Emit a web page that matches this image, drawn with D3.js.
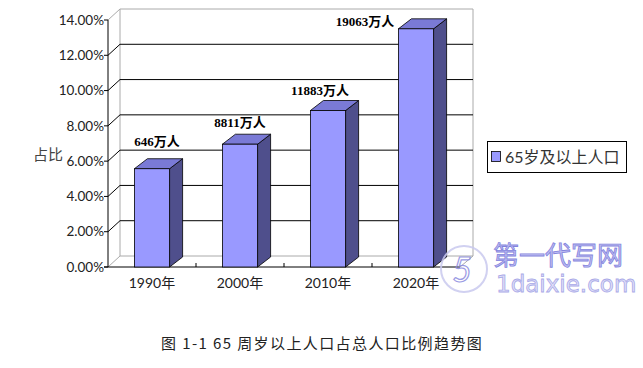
<!DOCTYPE html>
<html>
<head>
<meta charset="utf-8">
<script src="https://cdn.jsdelivr.net/npm/d3@7"></script>
<style>
  body { margin: 0; background: #fff; }
  svg { display: block; }
</style>
</head>
<body>
<div id="chart"></div>
<script>
// data
const years = ['1990年', '2000年', '2010年', '2020年'];
const shares = [0.0557, 0.0696, 0.0887, 0.1350];
const peopleLabels = ['646万人', '8811万人', '11883万人', '19063万人'];
const yTicks = [0, 0.02, 0.04, 0.06, 0.08, 0.10, 0.12, 0.14];
const seriesName = '65岁及以上人口';
const yTitle = '占比';
const caption = '图 1-1 65 周岁以上人口占总人口比例趋势图';

// label nudges (layout only), relative to bar centre / top
const labelNudge = [[5, -27], [0, -22], [-8, -20], [-51, -7]];

const W = 643, H = 368;
const wallDx = 12, wallDy = -11;   // depth of the walls
const barDx = 13, barDy = -10;     // depth of the bars

const svg = d3.select('#chart').append('svg')
  .attr('width', W).attr('height', H);

const x = d3.scaleBand().domain(years).range([108, 460]).padding(0);
const y = d3.scaleLinear().domain([0, 0.14]).range([267, 20]);
const barW = x.bandwidth() * 0.4;

const sans = 'Lato, "Noto Sans CJK SC", sans-serif';

// back wall + floor frame
const g = svg.append('g');
const x0 = x.range()[0], x1 = x.range()[1];
const bx0 = x0 + wallDx, bx1 = x1 + wallDx + 1;

g.append('line') // back wall top
  .attr('x1', bx0).attr('x2', bx1)
  .attr('y1', y(0.14) + wallDy).attr('y2', y(0.14) + wallDy)
  .attr('stroke', '#aaa');
g.append('line') // back wall right
  .attr('x1', bx1).attr('x2', bx1)
  .attr('y1', y(0.14) + wallDy).attr('y2', y(0) + wallDy)
  .attr('stroke', '#aaa');
g.append('line') // back wall left
  .attr('x1', bx0).attr('x2', bx0)
  .attr('y1', y(0.14) + wallDy).attr('y2', y(0) + wallDy)
  .attr('stroke', '#aaa');
g.append('line') // floor right edge
  .attr('x1', x1).attr('x2', bx1)
  .attr('y1', y(0)).attr('y2', y(0) + wallDy)
  .attr('stroke', '#aaa');

// gridlines on back wall and on left wall
yTicks.forEach(v => {
  const edge = v === 0 || v === 0.14;
  if (v !== 0.14) {
    g.append('line')
      .attr('x1', bx0).attr('x2', bx1)
      .attr('y1', y(v) + wallDy).attr('y2', y(v) + wallDy)
      .attr('stroke', edge ? '#aaa' : '#000');
  }
  g.append('line')
    .attr('x1', x0).attr('x2', bx0)
    .attr('y1', y(v)).attr('y2', y(v) + wallDy)
    .attr('stroke', edge ? '#aaa' : '#000');
});

// front axis
g.append('line')
  .attr('x1', x0).attr('x2', x0)
  .attr('y1', y(0.14)).attr('y2', y(0))
  .attr('stroke', '#000');
g.append('line')
  .attr('x1', x0 - 4).attr('x2', x1)
  .attr('y1', y(0)).attr('y2', y(0))
  .attr('stroke', '#000');

g.selectAll('.ytick').data(yTicks).enter().append('line')
  .attr('x1', x0 - 4).attr('x2', x0)
  .attr('y1', d => y(d)).attr('y2', d => y(d))
  .attr('stroke', '#000');

g.selectAll('.ylab').data(yTicks).enter().append('text')
  .attr('x', x0 - 4)
  .attr('y', d => y(d))
  .attr('dy', '0.35em')
  .attr('text-anchor', 'end')
  .style('font-family', sans)
  .style('font-size', '13.5px')
  .style('fill', '#222')
  .text(d3.format('.2%'));

// category ticks between bars
g.selectAll('.xtick').data(years.slice(1)).enter().append('line')
  .attr('x1', d => x(d)).attr('x2', d => x(d))
  .attr('y1', y(0) - 4).attr('y2', y(0))
  .attr('stroke', '#000');

g.selectAll('.xlab').data(years).enter().append('text')
  .attr('x', d => x(d) + x.bandwidth() / 2)
  .attr('y', 283)
  .attr('dy', '0.35em')
  .attr('text-anchor', 'middle')
  .style('font-family', sans)
  .style('font-size', '14px')
  .style('fill', '#222')
  .text(d => d);

// 3d bars
const bars = svg.append('g').selectAll('g').data(years).enter().append('g');
bars.each(function(d, i) {
  const b = d3.select(this);
  const l = x(d) + x.bandwidth() / 2 - barW / 2;
  const r = l + barW;
  const t = y(shares[i]);
  const bot = y(0);
  b.append('path') // side
    .attr('d', `M${r},${bot}L${r + barDx},${bot + barDy}L${r + barDx},${t + barDy}L${r},${t}Z`)
    .attr('fill', '#4f4f8c').attr('stroke', '#000').attr('stroke-width', 0.8);
  b.append('path') // top
    .attr('d', `M${l},${t}L${l + barDx},${t + barDy}L${r + barDx},${t + barDy}L${r},${t}Z`)
    .attr('fill', '#7a7ad6').attr('stroke', '#000').attr('stroke-width', 0.8);
  b.append('rect') // front
    .attr('x', l).attr('y', t)
    .attr('width', barW).attr('height', bot - t)
    .attr('fill', '#9999ff').attr('stroke', '#000').attr('stroke-width', 0.8);
});

// data labels
svg.selectAll('.dlab').data(years).enter().append('text')
  .attr('x', (d, i) => x(d) + x.bandwidth() / 2 + labelNudge[i][0])
  .attr('y', (d, i) => y(shares[i]) + labelNudge[i][1])
  .attr('dy', '0.35em')
  .attr('text-anchor', 'middle')
  .style('font-family', '"Liberation Serif", "Noto Sans CJK SC", serif')
  .style('font-weight', 'bold')
  .style('font-size', '13px')
  .style('fill', '#000')
  .text((d, i) => peopleLabels[i]);

// y title
svg.append('text')
  .attr('x', 33).attr('y', 155)
  .attr('dy', '0.35em')
  .style('font-family', '"Noto Sans CJK SC", sans-serif')
  .style('font-size', '15px')
  .style('fill', '#444')
  .text(yTitle);

// legend
const lg = svg.append('g');
lg.append('rect')
  .attr('x', 487.5).attr('y', 141.5).attr('width', 139).attr('height', 31)
  .attr('fill', '#fff').attr('stroke', '#000');
lg.append('rect')
  .attr('x', 491.5).attr('y', 151.5).attr('width', 9).attr('height', 10)
  .attr('fill', '#9999ff').attr('stroke', '#000').attr('stroke-width', 0.8);
lg.append('text')
  .attr('x', 505).attr('y', 157)
  .attr('dy', '0.35em')
  .style('font-family', sans)
  .style('font-size', '16px')
  .style('fill', '#333')
  .text(seriesName);

// watermark
const wm = svg.append('g').attr('opacity', 0.85);
wm.append('circle')
  .attr('cx', 464).attr('cy', 269).attr('r', 23)
  .attr('fill', 'none').attr('stroke', '#c9c9ef').attr('stroke-width', 2);
wm.append('text')
  .attr('x', 462).attr('y', 270).attr('dy', '0.35em')
  .attr('text-anchor', 'middle')
  .style('font-family', 'Lato, sans-serif')
  .style('font-style', 'italic')
  .style('font-size', '34px')
  .style('fill', 'none').style('stroke', '#8a8ae0').style('stroke-width', 1.2)
  .text('5');
wm.append('text')
  .attr('x', 493).attr('y', 256).attr('dy', '0.35em')
  .style('font-family', '"Noto Sans CJK SC", sans-serif')
  .style('font-size', '26px')
  .style('fill', '#b4b4f0').style('stroke', '#6e6ed8').style('stroke-width', 0.8)
  .text('第一代写网');
wm.append('text')
  .attr('x', 496).attr('y', 284).attr('dy', '0.35em')
  .style('font-family', '"DejaVu Sans", sans-serif')
  .style('font-size', '23px')
  .style('fill', '#dcdcf8').style('stroke', '#9a9ae4').style('stroke-width', 0.8)
  .text('1daixie.com');

// caption
svg.append('text')
  .attr('x', 161).attr('y', 344)
  .attr('dy', '0.35em')
  .style('font-family', '"Noto Sans CJK SC", sans-serif')
  .style('font-size', '15px')
  .style('letter-spacing', '1.4px')
  .style('fill', '#222')
  .text(caption);
</script>
</body>
</html>
